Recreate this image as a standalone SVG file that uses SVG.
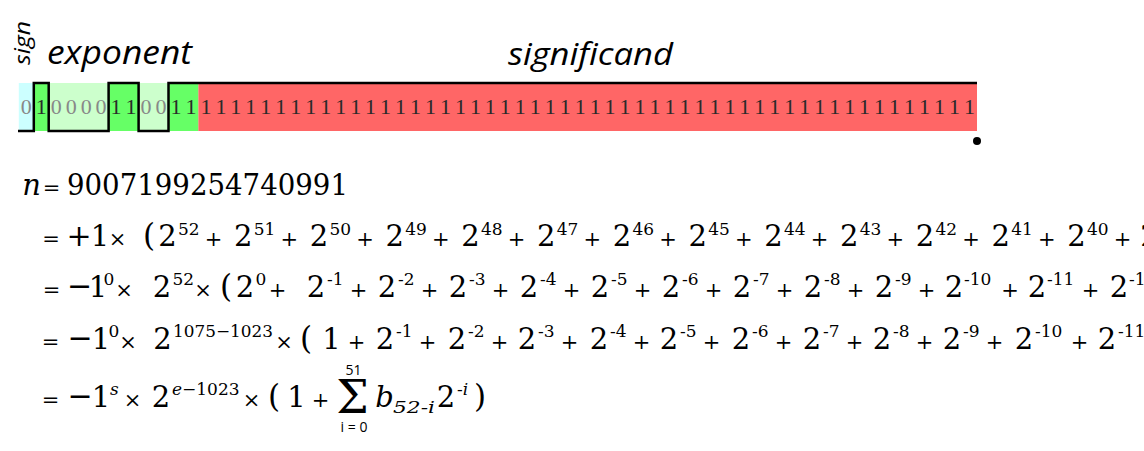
<svg xmlns="http://www.w3.org/2000/svg" width="1144" height="451" viewBox="0 0 1144 451">
<style>
.lbl{font-family:"Open Sans","Noto Sans",sans-serif;font-style:italic;fill:#000}
.bit{font-family:"Liberation Serif",serif;font-size:22px;text-anchor:middle}
.b0{fill:#888}
.b1{fill:#2a2a2a}
.m{font-family:"DejaVu Serif",serif;font-size:29px;fill:#000;text-anchor:middle}
.op{font-family:"DejaVu Serif",serif;font-size:21px;fill:#000;text-anchor:middle}
.big{font-family:"DejaVu Serif",serif;font-size:30px;fill:#000;text-anchor:middle}
.par{font-family:"DejaVu Serif",serif;font-size:31px;fill:#000;text-anchor:middle}
.sup{font-family:"DejaVu Serif",serif;font-size:17px;fill:#000}
.it{font-style:italic}
.sm{font-family:"Open Sans","Noto Sans",sans-serif;font-size:14px;fill:#000;text-anchor:middle}
.sig{font-family:"DejaVu Serif",serif;font-size:46px;fill:#000;text-anchor:middle}
</style>
<rect width="1144" height="451" fill="#fff"/>
<g id="labels">
<text class="lbl" style="font-size:22px" transform="translate(30,65) rotate(-90)" textLength="44" lengthAdjust="spacingAndGlyphs">sign</text>
<text class="lbl" x="47" y="64" style="font-size:32px" textLength="145" lengthAdjust="spacingAndGlyphs">exponent</text>
<text class="lbl" x="508" y="65" style="font-size:31px" textLength="165" lengthAdjust="spacingAndGlyphs">significand</text>
</g>
<g id="bitfield">
<rect x="18.8" y="83" width="15" height="48" fill="#ccffff"/>
<rect x="33.8" y="83" width="15" height="48" fill="#66ff66"/>
<rect x="48.7" y="83" width="60" height="48" fill="#ccffcc"/>
<rect x="108.6" y="83" width="30" height="48" fill="#66ff66"/>
<rect x="138.6" y="83" width="30" height="48" fill="#ccffcc"/>
<rect x="168.5" y="83" width="30" height="48" fill="#66ff66"/>
<rect x="198.4" y="83" width="778.6" height="48" fill="#ff6666"/>
<path d="M18,131 H33.8 V83 H48.7 V131 H108.6 V83 H138.6 V131 H168.5 V83 H977" fill="none" stroke="#000" stroke-width="2.5"/>
<text class="bit b0" y="114" x="26.3 56.2 71.2 86.2 101.1 146 161">0000000</text>
<text class="bit b1" y="114" x="41.3 116.1 131.1 176 191 205.93 220.9 235.87 250.84 265.81 280.78 295.75 310.72 325.69 340.66 355.63 370.6 385.57 400.54 415.51 430.48 445.45 460.42 475.39 490.36 505.33 520.3 535.27 550.24 565.21 580.18 595.15 610.12 625.09 640.06 655.03 670 684.97 699.94 714.91 729.88 744.85 759.82 774.79 789.76 804.73 819.7 834.67 849.64 864.61 879.58 894.55 909.52 924.49 939.46 954.43 969.4">111111111111111111111111111111111111111111111111111111111</text>
<circle cx="977" cy="141" r="4" fill="#000"/>
</g>
<g id="formula">
<!-- line 1 -->
<text class="m it" x="31.5" y="195">n</text>
<text class="op" x="51.5" y="195">=</text>
<text class="m" x="67" y="195" style="text-anchor:start" textLength="281" lengthAdjust="spacingAndGlyphs">9007199254740991</text>
<!-- line 2 -->
<text class="op" x="51" y="246">=</text>
<text class="big" x="79" y="246">+</text>
<text class="m" x="100" y="246">1</text>
<text class="op" x="117.5" y="246">×</text>
<text class="par" x="149" y="246">(</text>
<text class="m" y="246" x="167.5 243.25 319 394.75 470.5 546.25 622 697.75 773.5 849.25 925 1000.75 1076.5 1149.5">22222222222222</text>
<text class="sup" y="235"><tspan x="178">52</tspan><tspan x="253.75">51</tspan><tspan x="329.5">50</tspan><tspan x="405.25">49</tspan><tspan x="481">48</tspan><tspan x="556.75">47</tspan><tspan x="632.5">46</tspan><tspan x="708.25">45</tspan><tspan x="784">44</tspan><tspan x="859.75">43</tspan><tspan x="935.5">42</tspan><tspan x="1011.25">41</tspan><tspan x="1087">40</tspan></text>
<text class="op" y="246" x="213.5 289.25 365 440.75 516.5 592.25 668 743.75 819.5 895.25 971 1046.75 1122.5">+++++++++++++</text>
<!-- line 3 -->
<text class="op" x="51.5" y="297">=</text>
<text class="big" x="79.5" y="296">−</text>
<text class="m" x="98" y="297">1</text>
<text class="sup" x="103.5" y="285">0</text>
<text class="op" x="124" y="297">×</text>
<text class="m" x="162" y="297">2</text>
<text class="sup" x="172.5" y="285">52</text>
<text class="op" x="203" y="297">×</text>
<text class="par" x="226" y="297">(</text>
<text class="m" x="245" y="297">2</text>
<text class="sup" x="255.5" y="285">0</text>
<text class="op" x="277.5" y="297">+</text>
<text class="m" y="297" x="316 387 458 529 600 671 742 813 884 954 1037 1119">222222222222</text>
<text class="sup" y="285"><tspan x="327">-1</tspan><tspan x="398">-2</tspan><tspan x="469">-3</tspan><tspan x="540">-4</tspan><tspan x="611">-5</tspan><tspan x="682">-6</tspan><tspan x="753">-7</tspan><tspan x="824">-8</tspan><tspan x="895">-9</tspan><tspan x="964">-10</tspan><tspan x="1047">-11</tspan><tspan x="1129">-12</tspan></text>
<text class="op" y="297" x="358.5 429.5 500.5 571.5 642.5 713.5 784.5 855.5 926.5 1010 1090.5">+++++++++++</text>
<!-- line 4 -->
<text class="op" x="50.5" y="349">=</text>
<text class="big" x="80" y="348">−</text>
<text class="m" x="101" y="349">1</text>
<text class="sup" x="108.5" y="337">0</text>
<text class="op" x="128" y="349">×</text>
<text class="m" x="162.5" y="349">2</text>
<text class="sup" x="173" y="337" textLength="100" lengthAdjust="spacingAndGlyphs">1075−1023</text>
<text class="op" x="284" y="349">×</text>
<text class="par" x="306" y="349">(</text>
<text class="m" x="331.5" y="349">1</text>
<text class="op" x="356.5" y="349">+</text>
<text class="m" y="349" x="385 457 527 599 669 741 812 882 952 1024 1107">22222222222</text>
<text class="sup" y="337"><tspan x="396">-1</tspan><tspan x="468">-2</tspan><tspan x="538">-3</tspan><tspan x="610">-4</tspan><tspan x="680">-5</tspan><tspan x="752">-6</tspan><tspan x="823">-7</tspan><tspan x="893">-8</tspan><tspan x="963">-9</tspan><tspan x="1035">-10</tspan><tspan x="1118">-11</tspan></text>
<text class="op" y="349" x="427.5 499.5 569.5 641.5 711.5 783.5 854.5 924.5 994.5 1079.5">++++++++++</text>
<!-- line 5 -->
<text class="op" x="50.5" y="407">=</text>
<text class="big" x="80" y="406">−</text>
<text class="m" x="101" y="407">1</text>
<text class="sup it" x="110" y="395">s</text>
<text class="op" x="132.5" y="407">×</text>
<text class="m" x="161" y="407">2</text>
<text class="sup" x="172" y="395"><tspan class="it">e</tspan>−1023</text>
<text class="op" x="251.5" y="407">×</text>
<text class="par" x="274" y="407">(</text>
<text class="m" x="296.5" y="407">1</text>
<text class="op" x="320.5" y="407">+</text>
<text class="sig" x="352.5" y="413">Σ</text>
<text class="sm" x="353.5" y="375">51</text>
<text class="sm" x="354" y="432">i = 0</text>
<text class="m it" x="384.5" y="407">b</text>
<text class="sup it" x="393" y="413" textLength="42" lengthAdjust="spacingAndGlyphs">52-i</text>
<text class="m" x="446" y="407">2</text>
<text class="sup" x="457" y="395">-<tspan class="it">i</tspan></text>
<text class="par" x="480" y="407">)</text>
</g>
</svg>
